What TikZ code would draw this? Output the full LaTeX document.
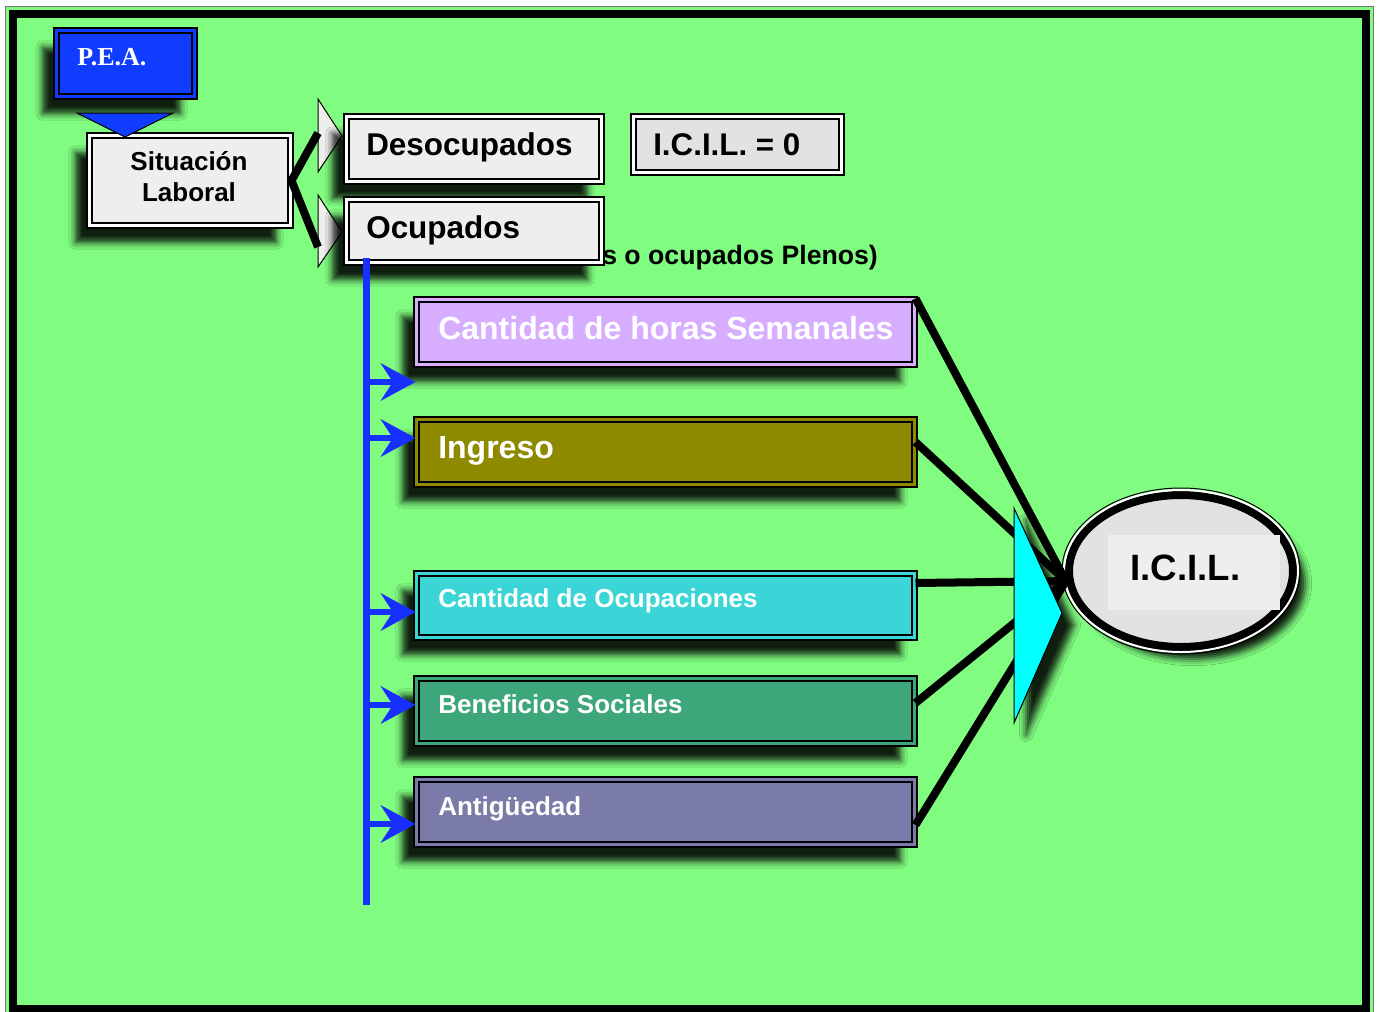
\documentclass[tikz,border=0pt]{standalone}
\usepackage{fontspec}
\setmainfont{Liberation Sans}
\newfontfamily\peaserif{Liberation Serif}
\usepackage{tikz}
\usetikzlibrary{arrows.meta,shapes.geometric,shadows.blur}

\definecolor{fondo}{RGB}{128,252,128}
\definecolor{peablue}{RGB}{16,60,255}
\definecolor{lineblue}{RGB}{24,48,255}
\definecolor{marble}{RGB}{238,238,236}
\definecolor{marbledk}{RGB}{226,226,226}
\definecolor{lavender}{RGB}{215,173,255}
\definecolor{olive}{RGB}{142,138,0}
\definecolor{turq}{RGB}{59,213,215}
\definecolor{seagreen}{RGB}{62,166,123}
\definecolor{slate}{RGB}{122,123,168}
\definecolor{aqua}{RGB}{0,255,255}

\begin{document}
\begin{tikzpicture}[x=0.75pt,y=0.75pt,yscale=-1,xscale=1,
  dbox/.style={draw=black,line width=1.5pt,double distance=2.25pt,inner sep=0pt},
  sombra/.style={blur shadow={shadow xshift=-10.5pt,shadow yshift=-12.75pt,shadow blur radius=5pt,shadow opacity=88}},
  sombrader/.style={blur shadow={shadow xshift=9pt,shadow yshift=-9pt,shadow blur radius=5pt,shadow opacity=88}},
  bigtxt/.style={anchor=base west,inner sep=0pt,font=\bfseries\fontsize{24}{28}\selectfont},
  smalltxt/.style={anchor=base west,inner sep=0pt,font=\bfseries\fontsize{19.5}{23}\selectfont},
  feed/.style={line width=6pt},
  barrow/.style={draw=lineblue,line width=4.5pt,-{Stealth[length=26pt,width=28pt,inset=9pt]}}
]
\useasboundingbox (0,0) rectangle (1380,1011);

%Shape: Frame
\fill[fondo] (5,6) rectangle (1373,1015);
\draw[black!55,line width=0.75pt] (5,6) rectangle (1373,1015);
\draw[line width=6pt] (12.5,13.5) rectangle (1366,1009);

%Shape: Rectangle P.E.A.
\node[dbox,sombra,fill=peablue,double=peablue,minimum width=103.5pt,minimum height=49.5pt] (pea) at (125.5,63.5) {};
% Text Node
\node[anchor=base west,inner sep=0pt,text=white,font=\peaserif\bfseries\fontsize{19.5}{23}\selectfont] (peatxt) at (77,65) {P.E.A.};

%Shape: Rectangle Situacion
\node[dbox,sombra,fill=marble,double=white,minimum width=150.75pt,minimum height=67.5pt] (sit) at (190,180.5) {};
% Text Node
\node[align=center,inner sep=0pt,font=\bfseries\fontsize{19.5}{23.25}\selectfont] (sittxt) at (189,177) {Situación\\Laboral};

%Shape: Triangle
\draw[fill=peablue,line width=0.75pt] (77,113) -- (173,113) -- (125,137) -- cycle;

% Text Node (behind Ocupados)
\node[anchor=base west,inner sep=0pt,font=\bfseries\fontsize{20}{24}\selectfont] (plenos) at (602,264) {s o ocupados Plenos)};

%Shape: Chevrons
\draw[fill=marble,line width=0.75pt] (318,99) -- (342,136) -- (318,172) -- cycle;
\draw[fill=marble,line width=0.75pt] (318,195) -- (342,232) -- (318,267) -- cycle;

%Shape: Rectangle Desocupados / Ocupados
\node[dbox,sombra,fill=marble,double=white,minimum width=191.25pt,minimum height=48.75pt] (des) at (474,149) {};
\node[dbox,sombra,fill=marble,double=white,minimum width=191.25pt,minimum height=47.25pt] (ocp) at (474,231) {};
% Text Node
\node[anchor=base west,inner sep=0pt,font=\bfseries\fontsize{23.6}{28}\selectfont] (destxt) at (366,155) {Desocupados};
% Text Node
\node[anchor=base west,inner sep=0pt,font=\bfseries\fontsize{23.6}{28}\selectfont] (ocptxt) at (366,238) {Ocupados};

%Shape: Rectangle I.C.I.L. = 0
\node[dbox,fill=marbledk,double=white,minimum width=156pt,minimum height=42pt] (icz) at (737.5,144.5) {};
% Text Node
\node[anchor=base west,inner sep=0pt,font=\bfseries\fontsize{23.5}{28}\selectfont] (icztxt) at (653,155) {I.C.I.L. = 0};

%Straight Lines bracket
\coordinate (b1) at (318,133);
\coordinate (b2) at (318,247);
\draw[line width=6pt] (b1) -- (sit.east) -- (b2);

%Shape: Rectangles of the indicators
\node[dbox,sombra,fill=lavender,double=lavender,minimum width=373.5pt,minimum height=48.75pt] (hrs) at (665.5,332) {};
\node[dbox,sombra,fill=olive,double=olive,minimum width=373.5pt,minimum height=48.75pt] (ing) at (665.5,452) {};
\node[dbox,sombra,fill=turq,double=turq,minimum width=373.5pt,minimum height=48pt] (ocu) at (665.5,605.5) {};
\node[dbox,sombra,fill=seagreen,double=seagreen,minimum width=373.5pt,minimum height=48.75pt] (ben) at (665.5,711) {};
\node[dbox,sombra,fill=slate,double=slate,minimum width=373.5pt,minimum height=48.75pt] (ant) at (665.5,812) {};
% Text Node
\node[bigtxt,text=white] (hrstxt) at (438,339) {Cantidad de horas Semanales};
% Text Node
\node[bigtxt,text=white] (ingtxt) at (438,458) {Ingreso};
% Text Node
\node[smalltxt,text=white] (ocutxt) at (438,607) {Cantidad de Ocupaciones};
% Text Node
\node[smalltxt,text=white] (bentxt) at (438,713) {Beneficios Sociales};
% Text Node
\node[smalltxt,text=white] (anttxt) at (438,815) {Antigüedad};

%Straight Lines blue
\coordinate (vtop) at (366,258);
\coordinate (vbot) at (366,905);
\draw[lineblue,line width=5.25pt] (vtop) -- (vbot);
\draw[barrow] (vtop |- 0,382) -- (hrs.west |- 0,382);
\draw[barrow] (vtop |- 0,438) -- (ing.west |- 0,438);
\draw[barrow] (vtop |- 0,612) -- (ocu.west |- 0,612);
\draw[barrow] (vtop |- 0,705) -- (ben.west |- 0,705);
\draw[barrow] (vtop |- 0,824) -- (ant.west |- 0,824);

%Shape: Ellipse I.C.I.L.
\node[ellipse,sombrader,draw=black,line width=6pt,fill=marbledk,inner sep=0pt,minimum width=168pt,minimum height=114pt] (icil) at (1181,571) {};
\draw[white,line width=1.5pt] (icil.center) ellipse [x radius=117,y radius=81];
\draw[black,line width=0.75pt] (icil.center) ellipse [x radius=119,y radius=83];
\fill[marble] (1108,535) rectangle (1280,610);
% Text Node
\node[anchor=base west,inner sep=0pt,font=\bfseries\fontsize{27.5}{32}\selectfont] (iciltxt) at (1130,580) {I.C.I.L.};

%Straight Lines to I.C.I.L.
\draw[feed] (hrs.north east) -- (icil.185);
\draw[feed] (ing.east |- 0,442) -- (icil.185);
\draw[feed] (ocu.east |- 0,583) -- (icil.185);
\draw[feed] (ben.east |- 0,703) -- (icil.185);
\draw[feed] (ant.east |- 0,825) -- (icil.185);

%Shape: Triangle cyan
\draw[fill=aqua,line width=0.75pt,sombrader] (1014,508) -- (1062,613) -- (1014,723) -- cycle;

\end{tikzpicture}
\end{document}
